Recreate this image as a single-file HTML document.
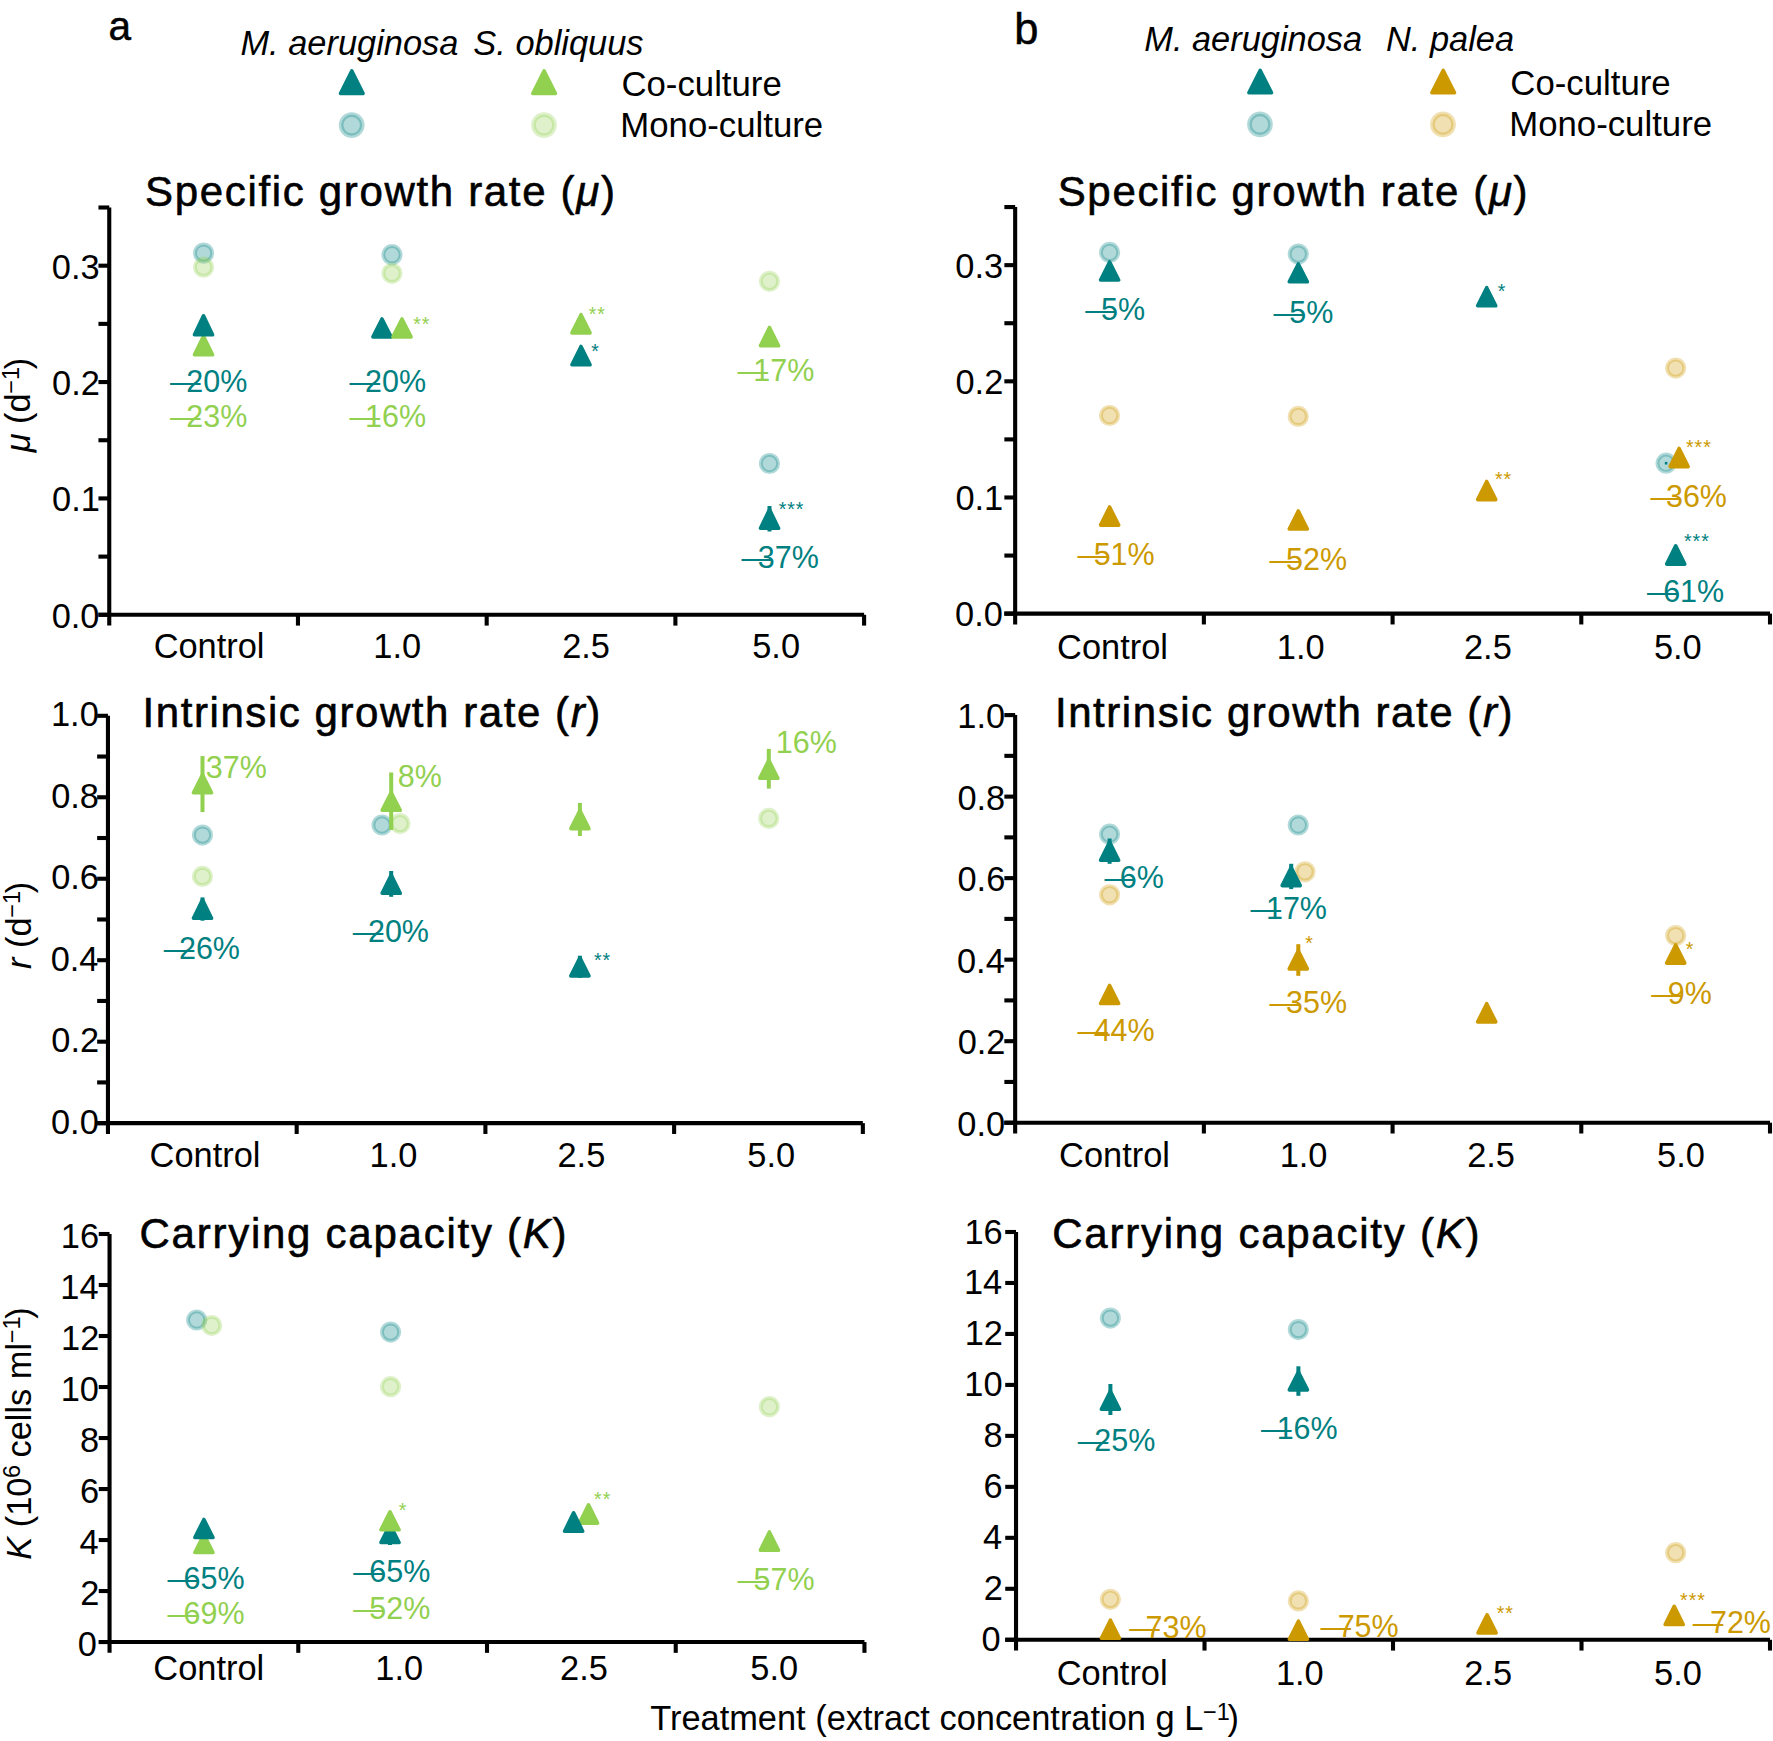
<!DOCTYPE html>
<html lang="en"><head><meta charset="utf-8"><title>Figure</title>
<style>html,body{margin:0;padding:0;background:#fff}svg{display:block}text{font-family:"Liberation Sans",Arial,Helvetica,sans-serif;white-space:pre}</style>
</head><body>
<svg width="1773" height="1741" viewBox="0 0 1773 1741" font-family="Liberation Sans, Arial, Helvetica, sans-serif">
<text x="108.48" y="39.7" font-size="40.5" fill="#000" stroke="#000" stroke-width="0.5">a</text>
<text x="1014.3" y="43.7" font-size="43.5" fill="#000" stroke="#000" stroke-width="0.5">b</text>
<text x="240.44" y="54.6" font-size="34.4" fill="#000" font-style="italic">M. aeruginosa</text>
<text x="473.33" y="54.6" font-size="34.4" fill="#000" font-style="italic">S. obliquus</text>
<text x="1144.24" y="51.3" font-size="34.4" fill="#000" font-style="italic">M. aeruginosa</text>
<text x="1385.94" y="51.3" font-size="34.4" fill="#000" font-style="italic">N. palea</text>
<path d="M351.8 70.7L363.2 93.5L340.4 93.5Z" fill="#008080" stroke="#008080" stroke-width="3.4" stroke-linejoin="round"/>
<path d="M544.1 70.7L555.5 93.5L532.7 93.5Z" fill="#92D050" stroke="#92D050" stroke-width="3.4" stroke-linejoin="round"/>
<circle cx="351.7" cy="125.1" r="10.55" fill="#008080" fill-opacity="0.3" stroke="#008080" stroke-opacity="0.3" stroke-width="4.7"/>
<circle cx="544" cy="125.1" r="10.55" fill="#92D050" fill-opacity="0.3" stroke="#92D050" stroke-opacity="0.3" stroke-width="4.7"/>
<text x="621.44" y="95.8" font-size="34.75" fill="#000">Co-culture</text>
<text x="620.35" y="137" font-size="34.75" fill="#000">Mono-culture</text>
<path d="M1260.2 70.2L1271.6 92.7L1248.8 92.7Z" fill="#008080" stroke="#008080" stroke-width="3.4" stroke-linejoin="round"/>
<path d="M1443.2 70.2L1454.6 92.7L1431.8 92.7Z" fill="#CC9900" stroke="#CC9900" stroke-width="3.4" stroke-linejoin="round"/>
<circle cx="1260" cy="124.4" r="10.55" fill="#008080" fill-opacity="0.3" stroke="#008080" stroke-opacity="0.3" stroke-width="4.7"/>
<circle cx="1443" cy="124.4" r="10.55" fill="#CC9900" fill-opacity="0.3" stroke="#CC9900" stroke-opacity="0.3" stroke-width="4.7"/>
<text x="1510.34" y="95" font-size="34.75" fill="#000">Co-culture</text>
<text x="1509.25" y="135.8" font-size="34.75" fill="#000">Mono-culture</text>
<text x="144.99" y="205.7" font-size="42" letter-spacing="1.67" stroke="#000" stroke-width="0.6" stroke-linejoin="round">Specific growth rate (<tspan font-style="italic">μ</tspan>)</text>
<text x="1057.69" y="205.7" font-size="42" letter-spacing="1.67" stroke="#000" stroke-width="0.6" stroke-linejoin="round">Specific growth rate (<tspan font-style="italic">μ</tspan>)</text>
<text x="142.62" y="727.4" font-size="42" letter-spacing="1.56" stroke="#000" stroke-width="0.6" stroke-linejoin="round">Intrinsic growth rate (<tspan font-style="italic">r</tspan>)</text>
<text x="1054.92" y="727.4" font-size="42" letter-spacing="1.56" stroke="#000" stroke-width="0.6" stroke-linejoin="round">Intrinsic growth rate (<tspan font-style="italic">r</tspan>)</text>
<text x="139.47" y="1247.8" font-size="42" letter-spacing="1.75" stroke="#000" stroke-width="0.6" stroke-linejoin="round">Carrying capacity (<tspan font-style="italic">K</tspan>)</text>
<text x="1052.27" y="1248.2" font-size="42" letter-spacing="1.75" stroke="#000" stroke-width="0.6" stroke-linejoin="round">Carrying capacity (<tspan font-style="italic">K</tspan>)</text>
<path d="M109.25 207.5V625.6" stroke="#000" stroke-width="4.1" fill="none"/>
<path d="M98.45 614.8H864.1" stroke="#000" stroke-width="4.1" fill="none"/>
<path d="M297.96 614.8V625.6" stroke="#000" stroke-width="4.1"/>
<path d="M486.68 614.8V625.6" stroke="#000" stroke-width="4.1"/>
<path d="M675.39 614.8V625.6" stroke="#000" stroke-width="4.1"/>
<path d="M864.1 614.8V625.6" stroke="#000" stroke-width="4.1"/>
<path d="M98.45 614.8H109.25" stroke="#000" stroke-width="4.1"/>
<path d="M98.45 556.61H109.25" stroke="#000" stroke-width="4.1"/>
<path d="M98.45 498.43H109.25" stroke="#000" stroke-width="4.1"/>
<path d="M98.45 440.24H109.25" stroke="#000" stroke-width="4.1"/>
<path d="M98.45 382.06H109.25" stroke="#000" stroke-width="4.1"/>
<path d="M98.45 323.87H109.25" stroke="#000" stroke-width="4.1"/>
<path d="M98.45 265.69H109.25" stroke="#000" stroke-width="4.1"/>
<path d="M98.45 207.5H109.25" stroke="#000" stroke-width="4.1"/>
<text x="99.49" y="627.7" font-size="34.4" fill="#000" text-anchor="end">0.0</text>
<text x="99.83" y="511.33" font-size="34.4" fill="#000" text-anchor="end">0.1</text>
<text x="99.88" y="394.96" font-size="34.4" fill="#000" text-anchor="end">0.2</text>
<text x="99.66" y="278.59" font-size="34.4" fill="#000" text-anchor="end">0.3</text>
<path d="M107.95 715.8V1133.96" stroke="#000" stroke-width="4.1" fill="none"/>
<path d="M97.15 1123.16H862.85" stroke="#000" stroke-width="4.1" fill="none"/>
<path d="M296.68 1123.16V1133.96" stroke="#000" stroke-width="4.1"/>
<path d="M485.4 1123.16V1133.96" stroke="#000" stroke-width="4.1"/>
<path d="M674.12 1123.16V1133.96" stroke="#000" stroke-width="4.1"/>
<path d="M862.85 1123.16V1133.96" stroke="#000" stroke-width="4.1"/>
<path d="M97.15 1123.16H107.95" stroke="#000" stroke-width="4.1"/>
<path d="M97.15 1082.42H107.95" stroke="#000" stroke-width="4.1"/>
<path d="M97.15 1041.69H107.95" stroke="#000" stroke-width="4.1"/>
<path d="M97.15 1000.95H107.95" stroke="#000" stroke-width="4.1"/>
<path d="M97.15 960.22H107.95" stroke="#000" stroke-width="4.1"/>
<path d="M97.15 919.48H107.95" stroke="#000" stroke-width="4.1"/>
<path d="M97.15 878.74H107.95" stroke="#000" stroke-width="4.1"/>
<path d="M97.15 838.01H107.95" stroke="#000" stroke-width="4.1"/>
<path d="M97.15 797.27H107.95" stroke="#000" stroke-width="4.1"/>
<path d="M97.15 756.54H107.95" stroke="#000" stroke-width="4.1"/>
<path d="M97.15 715.8H107.95" stroke="#000" stroke-width="4.1"/>
<text x="98.79" y="1133.76" font-size="34.4" fill="#000" text-anchor="end">0.0</text>
<text x="99.18" y="1052.29" font-size="34.4" fill="#000" text-anchor="end">0.2</text>
<text x="98.46" y="970.82" font-size="34.4" fill="#000" text-anchor="end">0.4</text>
<text x="98.96" y="889.34" font-size="34.4" fill="#000" text-anchor="end">0.6</text>
<text x="98.94" y="807.87" font-size="34.4" fill="#000" text-anchor="end">0.8</text>
<text x="98.79" y="726.4" font-size="34.4" fill="#000" text-anchor="end">1.0</text>
<path d="M109.55 1234V1652.85" stroke="#000" stroke-width="4.1" fill="none"/>
<path d="M98.75 1642.05H864.45" stroke="#000" stroke-width="4.1" fill="none"/>
<path d="M298.28 1642.05V1652.85" stroke="#000" stroke-width="4.1"/>
<path d="M487 1642.05V1652.85" stroke="#000" stroke-width="4.1"/>
<path d="M675.73 1642.05V1652.85" stroke="#000" stroke-width="4.1"/>
<path d="M864.45 1642.05V1652.85" stroke="#000" stroke-width="4.1"/>
<path d="M98.75 1642.05H109.55" stroke="#000" stroke-width="4.1"/>
<path d="M98.75 1591.04H109.55" stroke="#000" stroke-width="4.1"/>
<path d="M98.75 1540.04H109.55" stroke="#000" stroke-width="4.1"/>
<path d="M98.75 1489.03H109.55" stroke="#000" stroke-width="4.1"/>
<path d="M98.75 1438.03H109.55" stroke="#000" stroke-width="4.1"/>
<path d="M98.75 1387.02H109.55" stroke="#000" stroke-width="4.1"/>
<path d="M98.75 1336.01H109.55" stroke="#000" stroke-width="4.1"/>
<path d="M98.75 1285.01H109.55" stroke="#000" stroke-width="4.1"/>
<path d="M98.75 1234H109.55" stroke="#000" stroke-width="4.1"/>
<text x="96.94" y="1655.65" font-size="34.4" fill="#000" text-anchor="end">0</text>
<text x="99.33" y="1604.64" font-size="34.4" fill="#000" text-anchor="end">2</text>
<text x="98.61" y="1553.64" font-size="34.4" fill="#000" text-anchor="end">4</text>
<text x="99.11" y="1502.63" font-size="34.4" fill="#000" text-anchor="end">6</text>
<text x="99.09" y="1451.62" font-size="34.4" fill="#000" text-anchor="end">8</text>
<text x="98.94" y="1400.62" font-size="34.4" fill="#000" text-anchor="end">10</text>
<text x="99.33" y="1349.61" font-size="34.4" fill="#000" text-anchor="end">12</text>
<text x="98.61" y="1298.61" font-size="34.4" fill="#000" text-anchor="end">14</text>
<text x="99.11" y="1247.6" font-size="34.4" fill="#000" text-anchor="end">16</text>
<path d="M1015.16 207.06V624.46" stroke="#000" stroke-width="4.1" fill="none"/>
<path d="M1004.36 613.66H1770" stroke="#000" stroke-width="4.1" fill="none"/>
<path d="M1203.87 613.66V624.46" stroke="#000" stroke-width="4.1"/>
<path d="M1392.58 613.66V624.46" stroke="#000" stroke-width="4.1"/>
<path d="M1581.29 613.66V624.46" stroke="#000" stroke-width="4.1"/>
<path d="M1770 613.66V624.46" stroke="#000" stroke-width="4.1"/>
<path d="M1004.36 613.66H1015.16" stroke="#000" stroke-width="4.1"/>
<path d="M1004.36 555.57H1015.16" stroke="#000" stroke-width="4.1"/>
<path d="M1004.36 497.49H1015.16" stroke="#000" stroke-width="4.1"/>
<path d="M1004.36 439.4H1015.16" stroke="#000" stroke-width="4.1"/>
<path d="M1004.36 381.32H1015.16" stroke="#000" stroke-width="4.1"/>
<path d="M1004.36 323.23H1015.16" stroke="#000" stroke-width="4.1"/>
<path d="M1004.36 265.15H1015.16" stroke="#000" stroke-width="4.1"/>
<path d="M1004.36 207.06H1015.16" stroke="#000" stroke-width="4.1"/>
<text x="1002.9" y="626.46" font-size="34.4" fill="#000" text-anchor="end">0.0</text>
<text x="1003.24" y="510.29" font-size="34.4" fill="#000" text-anchor="end">0.1</text>
<text x="1003.29" y="394.12" font-size="34.4" fill="#000" text-anchor="end">0.2</text>
<text x="1003.07" y="277.95" font-size="34.4" fill="#000" text-anchor="end">0.3</text>
<path d="M1015.16 715.1V1133.5" stroke="#000" stroke-width="4.1" fill="none"/>
<path d="M1004.36 1122.7H1770" stroke="#000" stroke-width="4.1" fill="none"/>
<path d="M1203.87 1122.7V1133.5" stroke="#000" stroke-width="4.1"/>
<path d="M1392.58 1122.7V1133.5" stroke="#000" stroke-width="4.1"/>
<path d="M1581.29 1122.7V1133.5" stroke="#000" stroke-width="4.1"/>
<path d="M1770 1122.7V1133.5" stroke="#000" stroke-width="4.1"/>
<path d="M1004.36 1122.7H1015.16" stroke="#000" stroke-width="4.1"/>
<path d="M1004.36 1081.94H1015.16" stroke="#000" stroke-width="4.1"/>
<path d="M1004.36 1041.18H1015.16" stroke="#000" stroke-width="4.1"/>
<path d="M1004.36 1000.42H1015.16" stroke="#000" stroke-width="4.1"/>
<path d="M1004.36 959.66H1015.16" stroke="#000" stroke-width="4.1"/>
<path d="M1004.36 918.9H1015.16" stroke="#000" stroke-width="4.1"/>
<path d="M1004.36 878.14H1015.16" stroke="#000" stroke-width="4.1"/>
<path d="M1004.36 837.38H1015.16" stroke="#000" stroke-width="4.1"/>
<path d="M1004.36 796.62H1015.16" stroke="#000" stroke-width="4.1"/>
<path d="M1004.36 755.86H1015.16" stroke="#000" stroke-width="4.1"/>
<path d="M1004.36 715.1H1015.16" stroke="#000" stroke-width="4.1"/>
<text x="1005.1" y="1135.9" font-size="34.4" fill="#000" text-anchor="end">0.0</text>
<text x="1005.49" y="1054.38" font-size="34.4" fill="#000" text-anchor="end">0.2</text>
<text x="1004.77" y="972.86" font-size="34.4" fill="#000" text-anchor="end">0.4</text>
<text x="1005.27" y="891.34" font-size="34.4" fill="#000" text-anchor="end">0.6</text>
<text x="1005.25" y="809.82" font-size="34.4" fill="#000" text-anchor="end">0.8</text>
<text x="1005.1" y="728.3" font-size="34.4" fill="#000" text-anchor="end">1.0</text>
<path d="M1016.03 1232V1650.56" stroke="#000" stroke-width="4.1" fill="none"/>
<path d="M1005.23 1639.76H1770" stroke="#000" stroke-width="4.1" fill="none"/>
<path d="M1204.52 1639.76V1650.56" stroke="#000" stroke-width="4.1"/>
<path d="M1393.01 1639.76V1650.56" stroke="#000" stroke-width="4.1"/>
<path d="M1581.51 1639.76V1650.56" stroke="#000" stroke-width="4.1"/>
<path d="M1770 1639.76V1650.56" stroke="#000" stroke-width="4.1"/>
<path d="M1005.23 1639.76H1016.03" stroke="#000" stroke-width="4.1"/>
<path d="M1005.23 1588.79H1016.03" stroke="#000" stroke-width="4.1"/>
<path d="M1005.23 1537.82H1016.03" stroke="#000" stroke-width="4.1"/>
<path d="M1005.23 1486.85H1016.03" stroke="#000" stroke-width="4.1"/>
<path d="M1005.23 1435.88H1016.03" stroke="#000" stroke-width="4.1"/>
<path d="M1005.23 1384.91H1016.03" stroke="#000" stroke-width="4.1"/>
<path d="M1005.23 1333.94H1016.03" stroke="#000" stroke-width="4.1"/>
<path d="M1005.23 1282.97H1016.03" stroke="#000" stroke-width="4.1"/>
<path d="M1005.23 1232H1016.03" stroke="#000" stroke-width="4.1"/>
<text x="1000.57" y="1651.26" font-size="34.4" fill="#000" text-anchor="end">0</text>
<text x="1002.96" y="1600.29" font-size="34.4" fill="#000" text-anchor="end">2</text>
<text x="1002.24" y="1549.32" font-size="34.4" fill="#000" text-anchor="end">4</text>
<text x="1002.74" y="1498.35" font-size="34.4" fill="#000" text-anchor="end">6</text>
<text x="1002.72" y="1447.38" font-size="34.4" fill="#000" text-anchor="end">8</text>
<text x="1002.57" y="1396.41" font-size="34.4" fill="#000" text-anchor="end">10</text>
<text x="1002.96" y="1345.44" font-size="34.4" fill="#000" text-anchor="end">12</text>
<text x="1002.24" y="1294.47" font-size="34.4" fill="#000" text-anchor="end">14</text>
<text x="1002.74" y="1243.5" font-size="34.4" fill="#000" text-anchor="end">16</text>
<text x="153.65" y="657.7" font-size="34.4" fill="#000">Control</text>
<text x="373.25" y="657.7" font-size="34.4" fill="#000">1.0</text>
<text x="562.17" y="657.7" font-size="34.4" fill="#000">2.5</text>
<text x="752.22" y="657.7" font-size="34.4" fill="#000">5.0</text>
<text x="149.55" y="1166.8" font-size="34.4" fill="#000">Control</text>
<text x="369.55" y="1166.8" font-size="34.4" fill="#000">1.0</text>
<text x="557.47" y="1166.8" font-size="34.4" fill="#000">2.5</text>
<text x="747.32" y="1166.8" font-size="34.4" fill="#000">5.0</text>
<text x="153.35" y="1680.4" font-size="34.4" fill="#000">Control</text>
<text x="375.35" y="1680.4" font-size="34.4" fill="#000">1.0</text>
<text x="560.07" y="1680.4" font-size="34.4" fill="#000">2.5</text>
<text x="750.32" y="1680.4" font-size="34.4" fill="#000">5.0</text>
<text x="1057.05" y="659" font-size="34.4" fill="#000">Control</text>
<text x="1276.75" y="659" font-size="34.4" fill="#000">1.0</text>
<text x="1463.97" y="659" font-size="34.4" fill="#000">2.5</text>
<text x="1653.92" y="659" font-size="34.4" fill="#000">5.0</text>
<text x="1059.05" y="1166.8" font-size="34.4" fill="#000">Control</text>
<text x="1279.65" y="1166.8" font-size="34.4" fill="#000">1.0</text>
<text x="1467.17" y="1166.8" font-size="34.4" fill="#000">2.5</text>
<text x="1657.02" y="1166.8" font-size="34.4" fill="#000">5.0</text>
<text x="1056.75" y="1684.8" font-size="34.4" fill="#000">Control</text>
<text x="1275.95" y="1684.8" font-size="34.4" fill="#000">1.0</text>
<text x="1464.27" y="1684.8" font-size="34.4" fill="#000">2.5</text>
<text x="1654.12" y="1684.8" font-size="34.4" fill="#000">5.0</text>
<text x="650.23" y="1730.2" font-size="34.4">Treatment (extract concentration g L<tspan font-size="23.5" dy="-10.6" dx="-0.3">−1</tspan><tspan dy="10.6" dx="-2.3">)</tspan></text>
<text transform="translate(29.9 452.3) rotate(-90)" font-size="34.4"><tspan font-style="italic">μ</tspan> (d<tspan font-size="23.5" dy="-10.6" dx="-0.3">−1</tspan><tspan dy="10.6" dx="-2.3">)</tspan></text>
<text transform="translate(31 969) rotate(-90)" font-size="34.4"><tspan font-style="italic">r</tspan> (d<tspan font-size="23.5" dy="-10.6" dx="-0.3">−1</tspan><tspan dy="10.6" dx="-2.3">)</tspan></text>
<text transform="translate(30.7 1559.8) rotate(-90)" font-size="34.4"><tspan font-style="italic">K</tspan> (10<tspan font-size="23.5" dy="-10.6" dx="-0.3">6</tspan><tspan dy="10.6" dx="-2.3"> cells ml</tspan><tspan font-size="23.5" dy="-10.6" dx="-0.3">−1</tspan><tspan dy="10.6" dx="-2.3">)</tspan></text>
<circle cx="203.6" cy="253.1" r="8.65" fill="#008080" fill-opacity="0.3" stroke="#008080" stroke-opacity="0.3" stroke-width="3.9"/>
<circle cx="203.6" cy="267.2" r="8.65" fill="#92D050" fill-opacity="0.3" stroke="#92D050" stroke-opacity="0.3" stroke-width="3.9"/>
<path d="M203.5 336.4L212.55 354.8L194.45 354.8Z" fill="#92D050" stroke="#92D050" stroke-width="3.6" stroke-linejoin="round"/>
<path d="M203.5 315.9L212.55 334.8L194.45 334.8Z" fill="#008080" stroke="#008080" stroke-width="3.6" stroke-linejoin="round"/>
<text y="392" font-size="30.5" fill="#008080"><tspan x="170">—</tspan><tspan x="186.24">20%</tspan></text>
<text y="427.3" font-size="30.5" fill="#92D050"><tspan x="170">—</tspan><tspan x="186.24">23%</tspan></text>
<circle cx="392" cy="254.7" r="8.65" fill="#008080" fill-opacity="0.3" stroke="#008080" stroke-opacity="0.3" stroke-width="3.9"/>
<circle cx="392" cy="273.3" r="8.65" fill="#92D050" fill-opacity="0.3" stroke="#92D050" stroke-opacity="0.3" stroke-width="3.9"/>
<path d="M382 319L391.05 336.9L372.95 336.9Z" fill="#008080" stroke="#008080" stroke-width="3.6" stroke-linejoin="round"/>
<path d="M402 319L411.05 336.9L392.95 336.9Z" fill="#92D050" stroke="#92D050" stroke-width="3.6" stroke-linejoin="round"/>
<text x="413.19" y="330.68" font-size="19.5" fill="#92D050" letter-spacing="1">**</text>
<text y="392" font-size="30.5" fill="#008080"><tspan x="349.5">—</tspan><tspan x="365.04">20%</tspan></text>
<text y="427.3" font-size="30.5" fill="#92D050"><tspan x="349.5">—</tspan><tspan x="365.04">16%</tspan></text>
<path d="M581 314.7L590.05 332.9L571.95 332.9Z" fill="#92D050" stroke="#92D050" stroke-width="3.6" stroke-linejoin="round"/>
<text x="588.69" y="320.98" font-size="19.5" fill="#92D050" letter-spacing="1">**</text>
<path d="M581 346.5L590.05 364.8L571.95 364.8Z" fill="#008080" stroke="#008080" stroke-width="3.6" stroke-linejoin="round"/>
<text x="591.19" y="357.98" font-size="19.5" fill="#008080" letter-spacing="1">*</text>
<circle cx="769.5" cy="281.3" r="8.65" fill="#92D050" fill-opacity="0.3" stroke="#92D050" stroke-opacity="0.3" stroke-width="3.9"/>
<path d="M769.5 327.5L778.55 345.8L760.45 345.8Z" fill="#92D050" stroke="#92D050" stroke-width="3.6" stroke-linejoin="round"/>
<text y="381.3" font-size="30.5" fill="#92D050"><tspan x="737.5">—</tspan><tspan x="753.34">17%</tspan></text>
<circle cx="769.5" cy="463.5" r="8.65" fill="#008080" fill-opacity="0.3" stroke="#008080" stroke-opacity="0.3" stroke-width="3.9"/>
<rect x="767.5" y="506" width="4" height="25.5" fill="#008080"/>
<path d="M769.5 509.5L778.55 528.3L760.45 528.3Z" fill="#008080" stroke="#008080" stroke-width="3.6" stroke-linejoin="round"/>
<text x="778.69" y="515.98" font-size="19.5" fill="#008080" letter-spacing="1">***</text>
<text y="567.8" font-size="30.5" fill="#008080"><tspan x="741.5">—</tspan><tspan x="757.74">37%</tspan></text>
<rect x="200.5" y="756.1" width="4" height="56" fill="#92D050"/>
<path d="M202.5 774.8L211.55 792.7L193.45 792.7Z" fill="#92D050" stroke="#92D050" stroke-width="3.6" stroke-linejoin="round"/>
<text x="205.74" y="778.4" font-size="30.5" fill="#92D050">37%</text>
<circle cx="202.5" cy="835.1" r="8.65" fill="#008080" fill-opacity="0.3" stroke="#008080" stroke-opacity="0.3" stroke-width="3.9"/>
<circle cx="202.5" cy="876.4" r="8.65" fill="#92D050" fill-opacity="0.3" stroke="#92D050" stroke-opacity="0.3" stroke-width="3.9"/>
<rect x="200.5" y="897.4" width="4" height="23.3" fill="#008080"/>
<path d="M202.5 899.8L211.55 918.3L193.45 918.3Z" fill="#008080" stroke="#008080" stroke-width="3.6" stroke-linejoin="round"/>
<text y="958.8" font-size="30.5" fill="#008080"><tspan x="163.7">—</tspan><tspan x="178.94">26%</tspan></text>
<circle cx="382" cy="825" r="8.65" fill="#008080" fill-opacity="0.3" stroke="#008080" stroke-opacity="0.3" stroke-width="3.9"/>
<circle cx="400" cy="823.6" r="8.65" fill="#92D050" fill-opacity="0.3" stroke="#92D050" stroke-opacity="0.3" stroke-width="3.9"/>
<rect x="389.2" y="772.5" width="4" height="57.4" fill="#92D050"/>
<path d="M391.2 792.5L400.25 810.3L382.15 810.3Z" fill="#92D050" stroke="#92D050" stroke-width="3.6" stroke-linejoin="round"/>
<text x="397.81" y="786.5" font-size="30.5" fill="#92D050">8%</text>
<rect x="389.2" y="871" width="4" height="25.8" fill="#008080"/>
<path d="M391.2 875L400.25 893.3L382.15 893.3Z" fill="#008080" stroke="#008080" stroke-width="3.6" stroke-linejoin="round"/>
<text y="942.1" font-size="30.5" fill="#008080"><tspan x="352.7">—</tspan><tspan x="367.94">20%</tspan></text>
<rect x="577.9" y="802.9" width="4" height="33.1" fill="#92D050"/>
<path d="M579.9 810.5L588.95 828.6L570.85 828.6Z" fill="#92D050" stroke="#92D050" stroke-width="3.6" stroke-linejoin="round"/>
<rect x="577.9" y="955.7" width="4" height="22.1" fill="#008080"/>
<path d="M579.9 957.9L588.95 975.9L570.85 975.9Z" fill="#008080" stroke="#008080" stroke-width="3.6" stroke-linejoin="round"/>
<text x="593.89" y="967.48" font-size="19.5" fill="#008080" letter-spacing="1">**</text>
<rect x="766.8" y="748.9" width="4" height="39.7" fill="#92D050"/>
<path d="M768.8 760.3L777.85 778.3L759.75 778.3Z" fill="#92D050" stroke="#92D050" stroke-width="3.6" stroke-linejoin="round"/>
<text x="775.74" y="752.6" font-size="30.5" fill="#92D050">16%</text>
<circle cx="768.8" cy="818.4" r="8.65" fill="#92D050" fill-opacity="0.3" stroke="#92D050" stroke-opacity="0.3" stroke-width="3.9"/>
<circle cx="196.7" cy="1320" r="8.65" fill="#008080" fill-opacity="0.3" stroke="#008080" stroke-opacity="0.3" stroke-width="3.9"/>
<circle cx="211.7" cy="1325.5" r="8.65" fill="#92D050" fill-opacity="0.3" stroke="#92D050" stroke-opacity="0.3" stroke-width="3.9"/>
<path d="M203.9 1534.5L212.95 1552.5L194.85 1552.5Z" fill="#92D050" stroke="#92D050" stroke-width="3.6" stroke-linejoin="round"/>
<path d="M203.9 1519.5L212.95 1537.5L194.85 1537.5Z" fill="#008080" stroke="#008080" stroke-width="3.6" stroke-linejoin="round"/>
<text y="1588.5" font-size="30.5" fill="#008080"><tspan x="167.4">—</tspan><tspan x="183.54">65%</tspan></text>
<text y="1624.4" font-size="30.5" fill="#92D050"><tspan x="167.4">—</tspan><tspan x="183.54">69%</tspan></text>
<circle cx="390.6" cy="1332.1" r="8.65" fill="#008080" fill-opacity="0.3" stroke="#008080" stroke-opacity="0.3" stroke-width="3.9"/>
<circle cx="390.6" cy="1386.7" r="8.65" fill="#92D050" fill-opacity="0.3" stroke="#92D050" stroke-opacity="0.3" stroke-width="3.9"/>
<rect x="388" y="1522" width="4" height="23" fill="#008080"/>
<path d="M390 1524.5L399.05 1542.5L380.95 1542.5Z" fill="#008080" stroke="#008080" stroke-width="3.6" stroke-linejoin="round"/>
<path d="M390 1511.9L399.05 1529.8L380.95 1529.8Z" fill="#92D050" stroke="#92D050" stroke-width="3.6" stroke-linejoin="round"/>
<text x="398.69" y="1517.38" font-size="19.5" fill="#92D050" letter-spacing="1">*</text>
<text y="1581.9" font-size="30.5" fill="#008080"><tspan x="353.2">—</tspan><tspan x="369.34">65%</tspan></text>
<text y="1618.7" font-size="30.5" fill="#92D050"><tspan x="353.2">—</tspan><tspan x="369.34">52%</tspan></text>
<path d="M588.5 1504.8L597.55 1523.1L579.45 1523.1Z" fill="#92D050" stroke="#92D050" stroke-width="3.6" stroke-linejoin="round"/>
<path d="M573.6 1512.9L582.65 1531.2L564.55 1531.2Z" fill="#008080" stroke="#008080" stroke-width="3.6" stroke-linejoin="round"/>
<text x="594.09" y="1506.28" font-size="19.5" fill="#92D050" letter-spacing="1">**</text>
<circle cx="769.4" cy="1406.7" r="8.65" fill="#92D050" fill-opacity="0.3" stroke="#92D050" stroke-opacity="0.3" stroke-width="3.9"/>
<path d="M769.4 1532L778.45 1550.3L760.35 1550.3Z" fill="#92D050" stroke="#92D050" stroke-width="3.6" stroke-linejoin="round"/>
<text y="1589.8" font-size="30.5" fill="#92D050"><tspan x="737.4">—</tspan><tspan x="753.54">57%</tspan></text>
<circle cx="1109.6" cy="252.4" r="8.65" fill="#008080" fill-opacity="0.3" stroke="#008080" stroke-opacity="0.3" stroke-width="3.9"/>
<path d="M1109.6 262L1118.65 280L1100.55 280Z" fill="#008080" stroke="#008080" stroke-width="3.6" stroke-linejoin="round"/>
<text y="320.3" font-size="30.5" fill="#008080"><tspan x="1085.2">—</tspan><tspan x="1101.11">5%</tspan></text>
<circle cx="1109.6" cy="415.5" r="8.65" fill="#CC9900" fill-opacity="0.3" stroke="#CC9900" stroke-opacity="0.3" stroke-width="3.9"/>
<path d="M1109.6 507L1118.65 525.1L1100.55 525.1Z" fill="#CC9900" stroke="#CC9900" stroke-width="3.6" stroke-linejoin="round"/>
<text y="565.3" font-size="30.5" fill="#CC9900"><tspan x="1077.5">—</tspan><tspan x="1093.64">51%</tspan></text>
<circle cx="1298.3" cy="254.1" r="8.65" fill="#008080" fill-opacity="0.3" stroke="#008080" stroke-opacity="0.3" stroke-width="3.9"/>
<path d="M1298.3 264L1307.35 281.8L1289.25 281.8Z" fill="#008080" stroke="#008080" stroke-width="3.6" stroke-linejoin="round"/>
<text y="322.5" font-size="30.5" fill="#008080"><tspan x="1273.4">—</tspan><tspan x="1289.21">5%</tspan></text>
<circle cx="1298.3" cy="416.4" r="8.65" fill="#CC9900" fill-opacity="0.3" stroke="#CC9900" stroke-opacity="0.3" stroke-width="3.9"/>
<path d="M1298.3 511L1307.35 529L1289.25 529Z" fill="#CC9900" stroke="#CC9900" stroke-width="3.6" stroke-linejoin="round"/>
<text y="570" font-size="30.5" fill="#CC9900"><tspan x="1269.6">—</tspan><tspan x="1286.04">52%</tspan></text>
<path d="M1486.7 287.7L1495.75 305.8L1477.65 305.8Z" fill="#008080" stroke="#008080" stroke-width="3.6" stroke-linejoin="round"/>
<text x="1497.69" y="298.08" font-size="19.5" fill="#008080" letter-spacing="1">*</text>
<path d="M1486.7 481.5L1495.75 499.6L1477.65 499.6Z" fill="#CC9900" stroke="#CC9900" stroke-width="3.6" stroke-linejoin="round"/>
<text x="1494.99" y="485.88" font-size="19.5" fill="#CC9900" letter-spacing="1">**</text>
<circle cx="1675.7" cy="368.1" r="8.65" fill="#CC9900" fill-opacity="0.3" stroke="#CC9900" stroke-opacity="0.3" stroke-width="3.9"/>
<circle cx="1666.1" cy="463.2" r="8.65" fill="#008080" fill-opacity="0.3" stroke="#008080" stroke-opacity="0.3" stroke-width="3.9"/>
<rect x="1664.8" y="461.9" width="2.6" height="2.6" fill="#008080"/>
<path d="M1679.1 448.5L1688.15 466.6L1670.05 466.6Z" fill="#CC9900" stroke="#CC9900" stroke-width="3.6" stroke-linejoin="round"/>
<text x="1685.99" y="454.28" font-size="19.5" fill="#CC9900" letter-spacing="1">***</text>
<text y="507" font-size="30.5" fill="#CC9900"><tspan x="1650.4">—</tspan><tspan x="1665.94">36%</tspan></text>
<path d="M1675.7 545.8L1684.75 564.1L1666.65 564.1Z" fill="#008080" stroke="#008080" stroke-width="3.6" stroke-linejoin="round"/>
<text x="1683.99" y="548.48" font-size="19.5" fill="#008080" letter-spacing="1">***</text>
<text y="601.8" font-size="30.5" fill="#008080"><tspan x="1647">—</tspan><tspan x="1663.14">61%</tspan></text>
<circle cx="1109.6" cy="834.2" r="8.65" fill="#008080" fill-opacity="0.3" stroke="#008080" stroke-opacity="0.3" stroke-width="3.9"/>
<rect x="1107.6" y="838.5" width="4" height="25.3" fill="#008080"/>
<path d="M1109.6 842.1L1118.65 860.2L1100.55 860.2Z" fill="#008080" stroke="#008080" stroke-width="3.6" stroke-linejoin="round"/>
<text y="887.6" font-size="30.5" fill="#008080"><tspan x="1104.5">—</tspan><tspan x="1119.81">6%</tspan></text>
<circle cx="1109.6" cy="894.8" r="8.65" fill="#CC9900" fill-opacity="0.3" stroke="#CC9900" stroke-opacity="0.3" stroke-width="3.9"/>
<path d="M1109.6 985.5L1118.65 1003.5L1100.55 1003.5Z" fill="#CC9900" stroke="#CC9900" stroke-width="3.6" stroke-linejoin="round"/>
<text y="1041.2" font-size="30.5" fill="#CC9900"><tspan x="1077.5">—</tspan><tspan x="1093.64">44%</tspan></text>
<circle cx="1298.3" cy="825" r="8.65" fill="#008080" fill-opacity="0.3" stroke="#008080" stroke-opacity="0.3" stroke-width="3.9"/>
<circle cx="1305" cy="871.8" r="8.65" fill="#CC9900" fill-opacity="0.3" stroke="#CC9900" stroke-opacity="0.3" stroke-width="3.9"/>
<rect x="1289.2" y="863.8" width="4" height="25.3" fill="#008080"/>
<path d="M1291.2 867.5L1300.25 885.6L1282.15 885.6Z" fill="#008080" stroke="#008080" stroke-width="3.6" stroke-linejoin="round"/>
<text y="918.6" font-size="30.5" fill="#008080"><tspan x="1250.4">—</tspan><tspan x="1265.94">17%</tspan></text>
<rect x="1296.3" y="944.2" width="4" height="31.6" fill="#CC9900"/>
<path d="M1298.3 950.8L1307.35 968.9L1289.25 968.9Z" fill="#CC9900" stroke="#CC9900" stroke-width="3.6" stroke-linejoin="round"/>
<text x="1305.19" y="950.28" font-size="19.5" fill="#CC9900" letter-spacing="1">*</text>
<text y="1013.1" font-size="30.5" fill="#CC9900"><tspan x="1269.6">—</tspan><tspan x="1286.04">35%</tspan></text>
<path d="M1486.7 1003.7L1495.75 1021.9L1477.65 1021.9Z" fill="#CC9900" stroke="#CC9900" stroke-width="3.6" stroke-linejoin="round"/>
<circle cx="1675.7" cy="935.6" r="8.65" fill="#CC9900" fill-opacity="0.3" stroke="#CC9900" stroke-opacity="0.3" stroke-width="3.9"/>
<path d="M1675.7 945L1684.75 963.1L1666.65 963.1Z" fill="#CC9900" stroke="#CC9900" stroke-width="3.6" stroke-linejoin="round"/>
<text x="1685.69" y="955.68" font-size="19.5" fill="#CC9900" letter-spacing="1">*</text>
<text y="1003.9" font-size="30.5" fill="#CC9900"><tspan x="1651.3">—</tspan><tspan x="1667.71">9%</tspan></text>
<circle cx="1110.4" cy="1318.1" r="8.65" fill="#008080" fill-opacity="0.3" stroke="#008080" stroke-opacity="0.3" stroke-width="3.9"/>
<rect x="1108.4" y="1384" width="4" height="31" fill="#008080"/>
<path d="M1110.4 1391.2L1119.45 1409.2L1101.35 1409.2Z" fill="#008080" stroke="#008080" stroke-width="3.6" stroke-linejoin="round"/>
<text y="1451" font-size="30.5" fill="#008080"><tspan x="1077.8">—</tspan><tspan x="1094.24">25%</tspan></text>
<circle cx="1110.4" cy="1599.3" r="8.65" fill="#CC9900" fill-opacity="0.3" stroke="#CC9900" stroke-opacity="0.3" stroke-width="3.9"/>
<path d="M1110.4 1620.2L1119.45 1638.2L1101.35 1638.2Z" fill="#CC9900" stroke="#CC9900" stroke-width="3.6" stroke-linejoin="round"/>
<text y="1638.3" font-size="30.5" fill="#CC9900"><tspan x="1129.3">—</tspan><tspan x="1145.54">73%</tspan></text>
<circle cx="1298.4" cy="1329.6" r="8.65" fill="#008080" fill-opacity="0.3" stroke="#008080" stroke-opacity="0.3" stroke-width="3.9"/>
<rect x="1296.4" y="1366.3" width="4" height="29.5" fill="#008080"/>
<path d="M1298.4 1372L1307.45 1389.9L1289.35 1389.9Z" fill="#008080" stroke="#008080" stroke-width="3.6" stroke-linejoin="round"/>
<text y="1439.1" font-size="30.5" fill="#008080"><tspan x="1261.1">—</tspan><tspan x="1276.64">16%</tspan></text>
<circle cx="1298.4" cy="1600.9" r="8.65" fill="#CC9900" fill-opacity="0.3" stroke="#CC9900" stroke-opacity="0.3" stroke-width="3.9"/>
<path d="M1298.4 1621.2L1307.45 1639.2L1289.35 1639.2Z" fill="#CC9900" stroke="#CC9900" stroke-width="3.6" stroke-linejoin="round"/>
<text y="1636.8" font-size="30.5" fill="#CC9900"><tspan x="1320.5">—</tspan><tspan x="1337.64">75%</tspan></text>
<path d="M1487.1 1614.8L1496.15 1632.9L1478.05 1632.9Z" fill="#CC9900" stroke="#CC9900" stroke-width="3.6" stroke-linejoin="round"/>
<text x="1496.69" y="1620.28" font-size="19.5" fill="#CC9900" letter-spacing="1">**</text>
<circle cx="1675.7" cy="1552.7" r="8.65" fill="#CC9900" fill-opacity="0.3" stroke="#CC9900" stroke-opacity="0.3" stroke-width="3.9"/>
<path d="M1674.2 1606.4L1683.25 1624.5L1665.15 1624.5Z" fill="#CC9900" stroke="#CC9900" stroke-width="3.6" stroke-linejoin="round"/>
<text x="1680.09" y="1607.28" font-size="19.5" fill="#CC9900" letter-spacing="1">***</text>
<text y="1633" font-size="30.5" fill="#CC9900"><tspan x="1692.8">—</tspan><tspan x="1709.94">72%</tspan></text>
</svg>
</body></html>
